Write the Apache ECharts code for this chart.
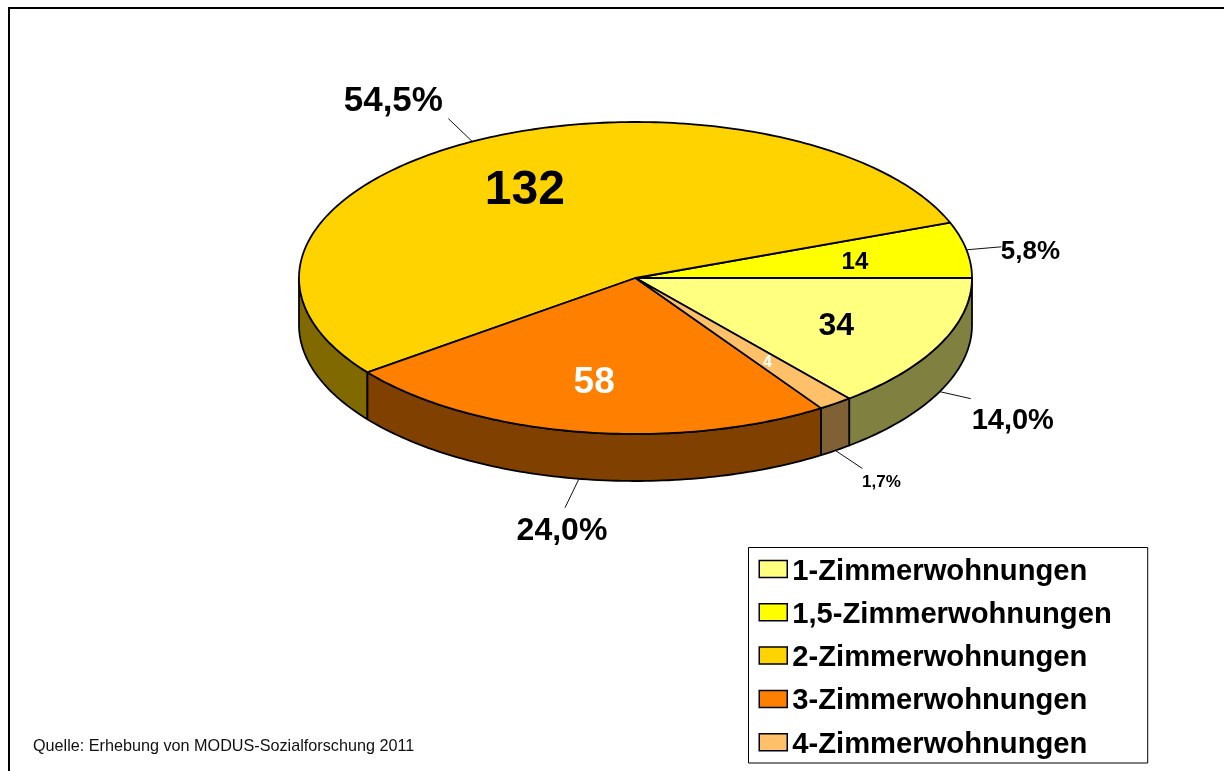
<!DOCTYPE html>
<html>
<head>
<meta charset="utf-8">
<style>html,body{margin:0;padding:0;background:#fff}#c{width:1224px;height:771px}</style>
<script src="https://cdn.jsdelivr.net/npm/echarts@6/dist/echarts.min.js"></script>
</head>
<body>
<div id="c"></div>
<script>
var categories = ['1-Zimmerwohnungen','1,5-Zimmerwohnungen','2-Zimmerwohnungen','3-Zimmerwohnungen','4-Zimmerwohnungen'];
var values = [34, 14, 132, 58, 4];
var topColors = ['#FFFF80','#FFFF00','#FFD300','#FF8000','#FFC06A'];
var sideColors = ['#808040','#808000','#806A00','#804000','#806035'];
var source = 'Quelle: Erhebung von MODUS-Sozialforschung 2011';

// layout, separate from the data
var CX = 635.5, CY = 278, RX = 336.5, RY = 156, DEPTH = 47, LW = 1.8;
var valueStyle = [
  {size:32, color:'#000', dx:0,  dy:4}, {size:24, color:'#000', dx:1, dy:3}, {size:48, color:'#000', dx:-3, dy:3},
  {size:37, color:'#fff', dx:-4, dy:3}, {size:16, color:'#fff', dx:0, dy:2}
];
var pctStyle = [
  {size:29, leader:[31,7],   text:[73,29]},
  {size:26, leader:[35,-3],  text:[64,2]},
  {size:35, leader:[-24,-23],text:[-79,-40]},
  {size:32, leader:[-14,29], text:[-17,52]},
  {size:17, leader:[27,18],  text:[46,32]}
];

var total = values.reduce(function(a,b){return a+b;},0);
var offset = values[0]/total*360;
function pt(deg, r, dy){
  var t = deg*Math.PI/180;
  return [CX + RX*r*Math.cos(t), CY + RY*r*Math.sin(t) + (dy||0)];
}
function arc(a, b, dy){
  var n = Math.max(2, Math.ceil(Math.abs(b-a))), out = [];
  for (var i=0;i<=n;i++) out.push(pt(a+(b-a)*i/n, 1, dy));
  return out;
}
function makeRender(idx){
  var before = values.slice(0,idx).reduce(function(a,b){return a+b;},0);
  return function(params, api){
    var v = api.value(0);
    var a0 = offset - before/total*360;
    var a1 = a0 - v/total*360;
    var mid = (a0+a1)/2;
    var lo = Math.min(a0,a1), hi = Math.max(a0,a1);
    var kids = [];
    var stroke = {stroke:'#000', lineWidth:LW, lineJoin:'round'};
    [0,-360].forEach(function(k){
      var s = Math.max(lo,k), e = Math.min(hi,k+180);
      if (e > s){
        var pts = arc(s,e,0).concat(arc(e,s,DEPTH));
        kids.push({type:'polygon', shape:{points:pts},
          style:Object.assign({fill:sideColors[idx]},stroke)});
      }
    });
    var pts = [[CX,CY]].concat(arc(a0,a1,0));
    kids.push({type:'polygon', shape:{points:pts},
      style:Object.assign({fill:topColors[idx]},stroke)});
    // value label on the slice
    var vp = pt(mid,0.66,0), vs = valueStyle[idx];
    kids.push({type:'text', z2:10, style:{text:String(v), x:vp[0]+vs.dx, y:vp[1]+vs.dy, align:'center', verticalAlign:'middle',
      fill:vs.color, font:'bold '+vs.size+'px "Liberation Sans", Arial, sans-serif'}});
    // percentage label + leader from the rim at mid angle
    var m = ((mid%360)+360)%360;
    var rim = pt(mid,1,(m>0 && m<180)?DEPTH:0), ps = pctStyle[idx];
    kids.push({type:'line', shape:{x1:rim[0],y1:rim[1],x2:rim[0]+ps.leader[0],y2:rim[1]+ps.leader[1]},
      style:{stroke:'#111', lineWidth:1}});
    var pct = (v/total*100).toFixed(1).replace('.',',')+'%';
    kids.push({type:'text', z2:10, style:{text:pct, x:rim[0]+ps.text[0], y:rim[1]+ps.text[1], align:'center', verticalAlign:'middle',
      fill:'#000', font:'bold '+ps.size+'px "Liberation Sans", Arial, sans-serif'}});
    return {type:'group', children:kids};
  };
}
var chart = echarts.init(document.getElementById('c'), null, {renderer:'canvas'});
chart.setOption({
  animation:false,
  backgroundColor:'#fff',
  legend:{
    orient:'vertical', left:748.5, top:547.5, selectedMode:false,
    data:categories,
    padding:[4.5,36,3.8,10], itemGap:9.3, itemWidth:28, itemHeight:17,
    backgroundColor:'#fff', borderColor:'#000', borderWidth:1,
    icon:'rect',
    itemStyle:{borderColor:'#000', borderWidth:1.5},
    formatter:'{t|{name}}',
    textStyle:{rich:{t:{fontFamily:'"Liberation Sans", Arial, sans-serif', fontWeight:'bold', fontSize:29.2, color:'#000', lineHeight:29, padding:[5,0,0,0]}}}
  },
  graphic:[
    {type:'polyline', shape:{points:[[9,771],[9,8],[1224,8]]}, style:{stroke:'#000', lineWidth:2, fill:null}},
    {type:'text', style:{text:source, x:33, y:747, verticalAlign:'middle', fill:'#111',
      font:'16.2px "Liberation Sans", Arial, sans-serif'}}
  ],
  series:categories.map(function(name,i){
    return {type:'custom', name:name, coordinateSystem:'none', silent:true,
      itemStyle:{color:topColors[i]}, data:[[values[i]]], renderItem:makeRender(i), clip:false};
  })
});
</script>
</body>
</html>
